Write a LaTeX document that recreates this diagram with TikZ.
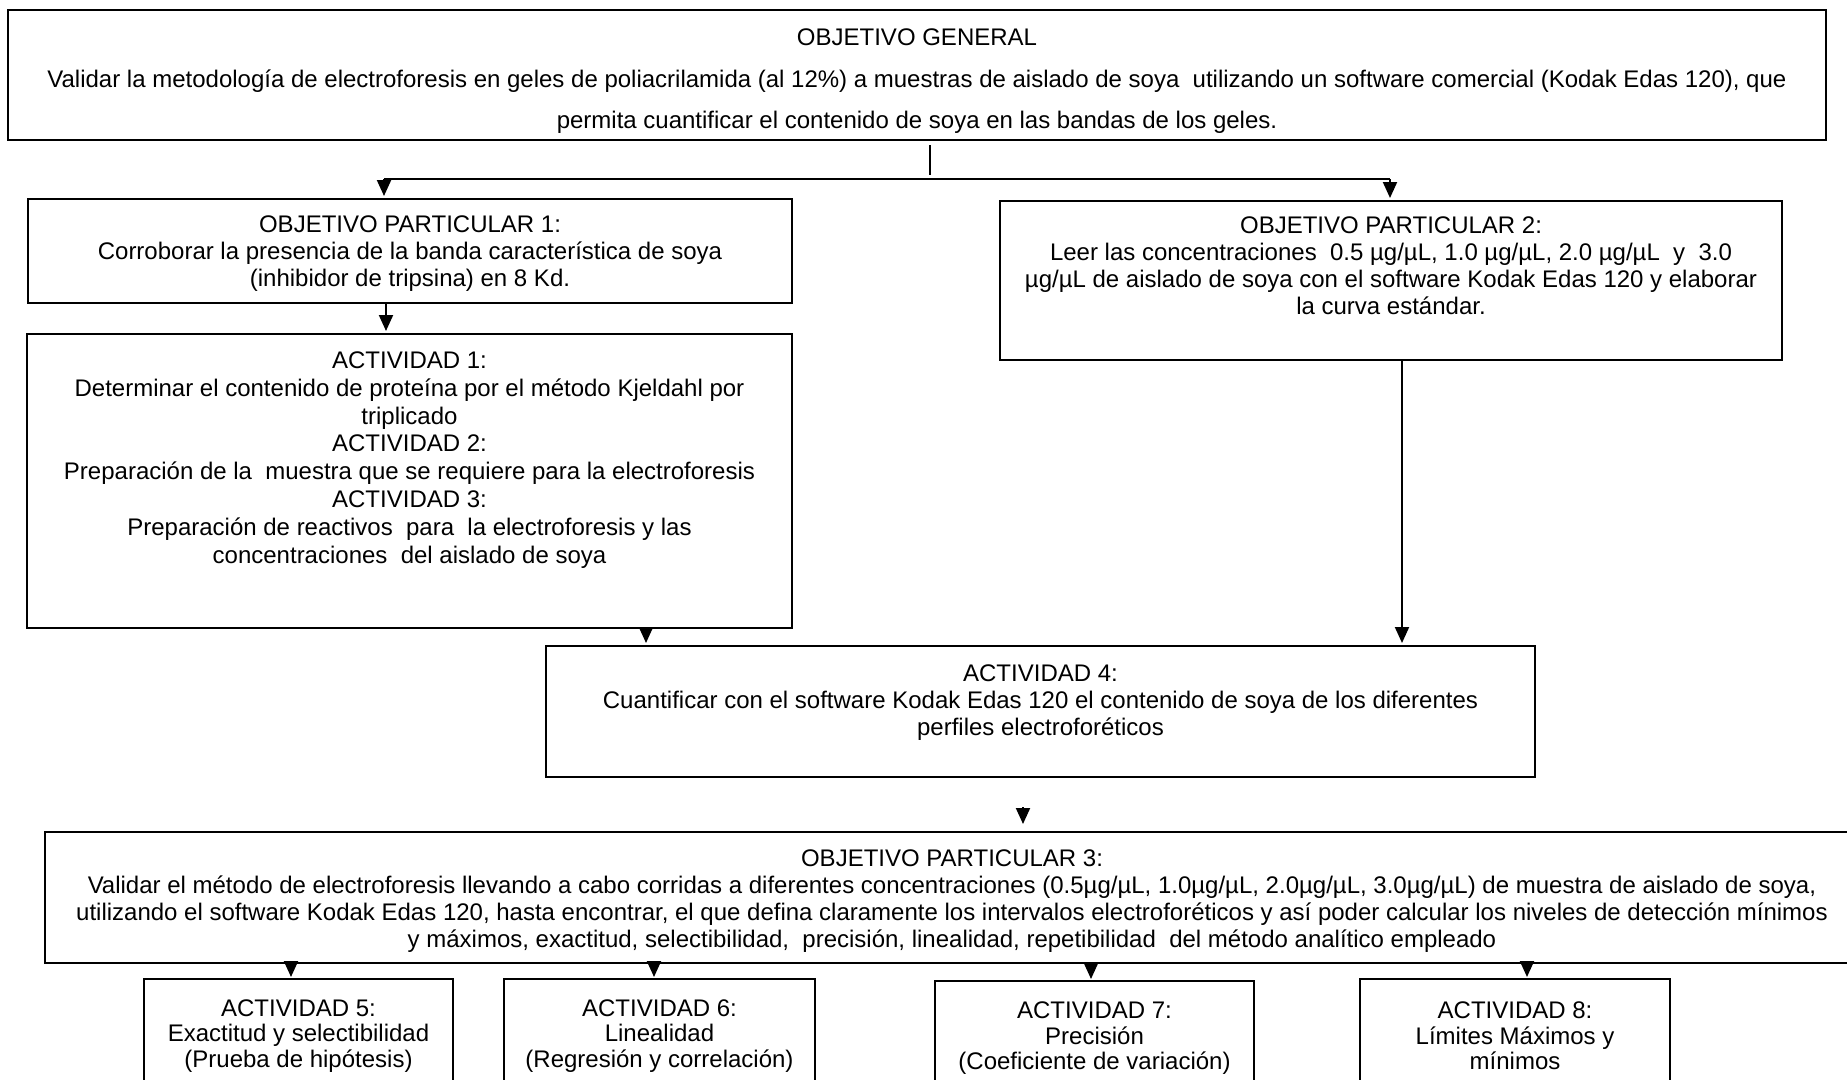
\documentclass[tikz,border=0pt]{standalone}
\usepackage{fontspec}
\setmainfont{Liberation Sans}
\usetikzlibrary{arrows.meta}
\begin{document}
\begin{tikzpicture}[x=1pt,y=-1pt,
  box/.style={draw, line width=2.2pt, rectangle, inner sep=0pt, outer sep=0pt, anchor=north west},
  txt/.style={align=center, inner sep=0pt, font=\fontsize{24}{27}\selectfont},
  conn/.style={line width=2pt},
  arr/.style={line width=2pt, -{Triangle[length=16pt,width=14pt]}, shorten >=3pt}]
\useasboundingbox (0,0) rectangle (1847,1079);
\clip (0,0) rectangle (1847,1079);
\fill[white] (0,0) rectangle (1847,1079);
% boxes
\node[box, minimum width=1818pt, minimum height=130pt] (top) at (8,10) {};
\node[box, minimum width=764pt, minimum height=104pt] (op1) at (28,199) {};
\node[box, minimum width=765pt, minimum height=294pt] (act) at (27,334) {};
\node[box, minimum width=782pt, minimum height=159pt] (op2) at (1000,201) {};
\node[box, minimum width=989pt, minimum height=131pt] (act4) at (546,646) {};
\node[box, minimum width=1814pt, minimum height=131pt] (op3) at (45,832) {};
\node[box, minimum width=309pt, minimum height=130pt] (a5) at (144,979) {};
\node[box, minimum width=311pt, minimum height=130pt] (a6) at (504,979) {};
\node[box, minimum width=319pt, minimum height=130pt] (a7) at (935,981) {};
\node[box, minimum width=310pt, minimum height=130pt] (a8) at (1360,979) {};
% texts
\node[txt, font=\fontsize{24}{41.5}\selectfont] (topt) at (917,81.5) {OBJETIVO GENERAL\\Validar la metodología de electroforesis en geles de poliacrilamida (al 12\%) a muestras de aislado de soya~ utilizando un software comercial (Kodak Edas 120), que\\permita cuantificar el contenido de soya en las bandas de los geles.};
\node[txt] (op1t) at (410,253.5) {OBJETIVO PARTICULAR 1:\\Corroborar la presencia de la banda característica de soya\\(inhibidor de tripsina) en 8 Kd.};
\node[txt, font=\fontsize{24}{27.8}\selectfont] (actt) at (409.5,460) {ACTIVIDAD 1:\\Determinar el contenido de proteína por el método Kjeldahl por\\triplicado\\ACTIVIDAD 2:\\Preparación de la~ muestra que se requiere para la electroforesis\\ACTIVIDAD 3:\\Preparación de reactivos~ para~ la electroforesis y las\\concentraciones~ del aislado de soya};
\node[txt] (op2t) at (1391,266) {OBJETIVO PARTICULAR 2:\\Leer las concentraciones~ 0.5 µg/µL, 1.0 µg/µL, 2.0 µg/µL~ y~ 3.0\\µg/µL de aislado de soya con el software Kodak Edas 120 y elaborar\\la curva estándar.};
\node[txt] (act4t) at (1040.5,702.5) {ACTIVIDAD 4:\\Cuantificar con el software Kodak Edas 120 el contenido de soya de los diferentes\\perfiles electroforéticos};
\node[txt] (op3t) at (952,901.5) {OBJETIVO PARTICULAR 3:\\Validar el método de electroforesis llevando a cabo corridas a diferentes concentraciones (0.5µg/µL, 1.0µg/µL, 2.0µg/µL, 3.0µg/µL) de muestra de aislado de soya,\\utilizando el software Kodak Edas 120, hasta encontrar, el que defina claramente los intervalos electroforéticos y así poder calcular los niveles de detección mínimos\\y máximos, exactitud, selectibilidad,~ precisión, linealidad, repetibilidad~ del método analítico empleado};
\node[txt, font=\fontsize{24}{25.5}\selectfont] (a5t) at (298.5,1036) {ACTIVIDAD 5:\\Exactitud y selectibilidad\\(Prueba de hipótesis)};
\node[txt, font=\fontsize{24}{25.5}\selectfont] (a6t) at (659.5,1036) {ACTIVIDAD 6:\\Linealidad\\(Regresión y correlación)};
\node[txt, font=\fontsize{24}{25.5}\selectfont] (a7t) at (1094.5,1038.5) {ACTIVIDAD 7:\\Precisión\\(Coeficiente de variación)};
\node[txt, font=\fontsize{24}{25.5}\selectfont] (a8t) at (1515,1036) {ACTIVIDAD 8:\\Límites Máximos y\\mínimos};
% connector coordinates
\coordinate (hc) at (930,179);
\coordinate (hl) at (384,179);
\coordinate (hr) at (1390,179);
\coordinate (c1) at (386,0);
\coordinate (c2) at (646,0);
\coordinate (c3) at (1402,0);
\coordinate (c4) at (1023,807);
\coordinate (d1) at (291,0);
\coordinate (d2) at (654,0);
\coordinate (d3) at (1091,0);
\coordinate (d4) at (1527,0);
% connectors
\draw[line width=1.5pt] ([yshift=-5pt]top.south -| hc) -- ([yshift=4pt]hc);
\draw[conn] (hl) -- (hr);
\draw[arr] (hl) -- (op1.north -| hl);
\draw[arr] (hr) -- (op2.north -| hr);
\draw[arr] (op1.south -| c1) -- (act.north -| c1);
\draw[arr] (act.south -| c2) -- (act4.north -| c2);
\draw[arr] (op2.south -| c3) -- (act4.north -| c3);
\draw[arr, shorten >=8pt] (c4) -- (op3.north -| c4);
\draw[arr, shorten >=2pt] (op3.south -| d1) -- (a5.north -| d1);
\draw[arr, shorten >=2pt] (op3.south -| d2) -- (a6.north -| d2);
\draw[arr, shorten >=2pt] (op3.south -| d3) -- (a7.north -| d3);
\draw[arr, shorten >=2pt] (op3.south -| d4) -- (a8.north -| d4);
\end{tikzpicture}
\end{document}
